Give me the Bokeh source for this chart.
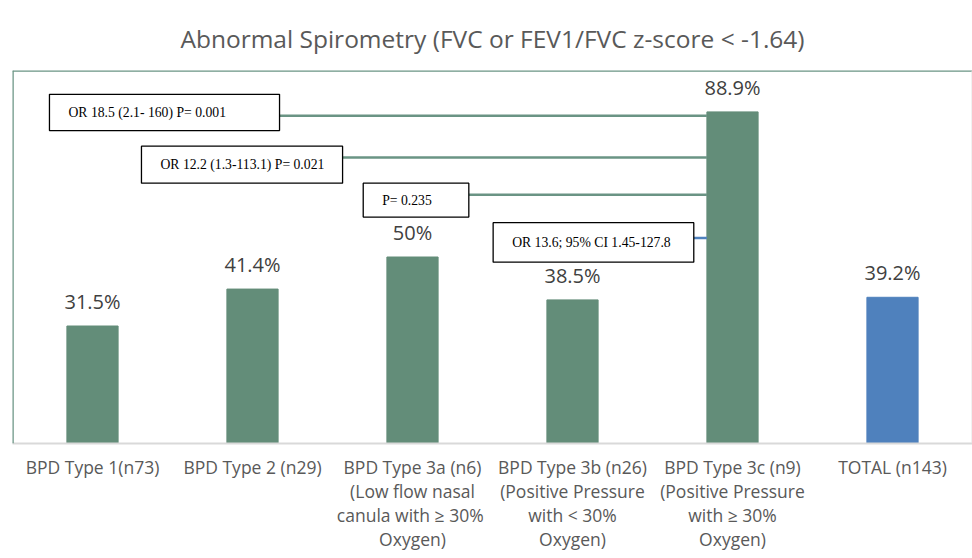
from bokeh.plotting import figure
from bokeh.models import FactorRange, Range1d, ColumnDataSource, Span
from bokeh.core.properties import value
from bokeh.embed import file_html
from bokeh.resources import INLINE

# ---- data ----
categories = [
    "BPD Type 1(n73)",
    "BPD Type 2 (n29)",
    "BPD Type 3a (n6)\n(Low flow nasal\ncanula with  \u2265 30%\nOxygen)",
    "BPD Type 3b (n26)\n(Positive Pressure\nwith < 30%\nOxygen)",
    "BPD Type 3c (n9)\n(Positive Pressure\nwith \u2265 30%\nOxygen)",
    "TOTAL (n143)",
]
values = [31.5, 41.4, 50.0, 38.5, 88.9, 39.2]
value_labels = ["31.5%", "41.4%", "50%", "38.5%", "88.9%", "39.2%"]
bar_colors = ["#638d79", "#638d79", "#638d79", "#638d79", "#638d79", "#4f81bd"]

# annotation boxes (statistics)
ann_texts = [
    "OR 18.5 (2.1- 160) P= 0.001",
    "OR 12.2 (1.3-113.1) P= 0.021",
    "P= 0.235",
    "OR 13.6; 95% CI 1.45-127.8",
]
ann_left = [0.231, 0.806, 2.192, 3.004]
ann_right = [1.669, 2.063, 2.852, 4.258]
ann_top = [93.6, 79.7, 69.8, 59.2]
ann_bottom = [83.9, 69.8, 60.7, 48.6]
ann_line_y = [87.9, 76.7, 66.7, 55.1]
ann_line_colors = ["#6a9484", "#6a9484", "#6a9484", "#4f81bd"]
target_bar = categories[4]
bar_width = 0.32

p = figure(
    x_range=FactorRange(*categories, range_padding=0),
    y_range=Range1d(0, 100),
    width=972, height=558,
    output_backend="svg", toolbar_location=None,
    title="Abnormal Spirometry (FVC or FEV1/FVC z-score < -1.64)",
    min_border_left=12, min_border_right=0, min_border_top=70, min_border_bottom=115,
)
p.title.align = "center"
p.title.text_font = "Open Sans"
p.title.text_font_size = "24.5px"
p.title.text_color = "#595959"
p.title.text_font_style = "normal"
p.title.standoff = 31

src = ColumnDataSource(dict(x=categories, top=values, color=bar_colors, lab=value_labels))
p.vbar(x="x", top="top", width=bar_width, color="color", source=src)
p.text(x="x", y="top", text="lab", source=src, text_align="center",
       text_baseline="bottom", y_offset=-11, text_font=value("Open Sans"),
       text_font_size="20px", text_color="#404040")

# connector lines to the BPD 3c bar
bar_left_edge = [categories.index(target_bar) + 0.5 - bar_width / 2] * len(ann_texts)
p.segment(x0=ann_right, y0=ann_line_y, x1=bar_left_edge, y1=ann_line_y,
          line_color=ann_line_colors, line_width=2.5)

# boxes
p.quad(left=ann_left, right=ann_right, top=ann_top, bottom=ann_bottom,
       fill_color="white", line_color="black", line_width=1.3)
mid = [(a + b) / 2 for a, b in zip(ann_top, ann_bottom)]
p.text(x=ann_left, y=mid, text=ann_texts, x_offset=19, text_align="left",
       text_baseline="middle", text_font=value("Liberation Serif"),
       text_font_size="13.7px", text_color="black")

# frame borders: green left/top, faint grey right
p.outline_line_color = None
p.add_layout(Span(location=0, dimension="height", line_color="#6a9484", line_width=2.5))
p.add_layout(Span(location=100, dimension="width", line_color="#6a9484", line_width=2.5))
p.add_layout(Span(location=len(categories), dimension="height", line_color="#e3e3e3", line_width=2))

p.yaxis.visible = False
p.xgrid.visible = False
p.ygrid.visible = False
p.xaxis.axis_line_color = "#d9d9d9"
p.xaxis.axis_line_width = 2
p.xaxis.major_tick_line_color = None
p.xaxis.minor_tick_line_color = None
p.xaxis.major_label_text_font = "Open Sans"
p.xaxis.major_label_text_font_size = "17.5px"
p.xaxis.major_label_text_color = "#595959"
p.xaxis.major_label_text_line_height = 1.0
p.xaxis.major_label_standoff = 5
p.xaxis.major_label_orientation = "horizontal"

open("out.html", "w").write(file_html(p, INLINE))
